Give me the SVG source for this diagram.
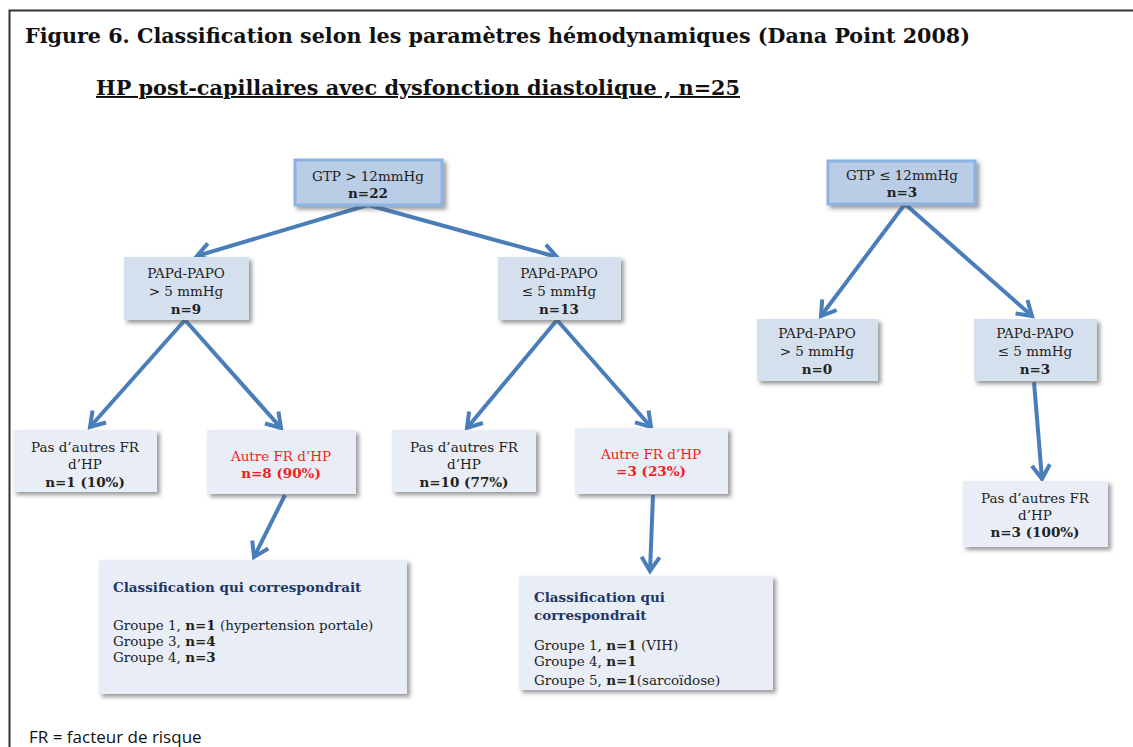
<svg xmlns="http://www.w3.org/2000/svg" width="1133" height="747" viewBox="0 0 1133 747">
<defs>
<style>
.t{font-family:"DejaVu Serif","Liberation Serif",serif;font-size:13.5px;fill:#222;text-anchor:middle}
.l{text-anchor:start}
.b{font-weight:bold}
.r{fill:#f21d1d}
.nv{fill:#1f3767;font-weight:bold}
.top{fill:#b9cde6;stroke:#8db3e2;stroke-width:3}
.mid{fill:#d5e0ee}
.leaf{fill:#e9eef6}
.c{stroke:#4a7ebb;stroke-width:4;fill:none;marker-end:url(#ah)}
</style>
<filter id="sh" x="-10%" y="-10%" width="130%" height="140%">
<feDropShadow dx="3" dy="3" stdDeviation="2" flood-color="#555" flood-opacity="0.6"/>
</filter>
<marker id="ah" markerUnits="userSpaceOnUse" markerWidth="24" markerHeight="24" viewBox="0 0 24 24" refX="20" refY="12" orient="auto">
<path d="M6,3 L20,12 L6,21" fill="none" stroke="#4a7ebb" stroke-width="4" stroke-linejoin="miter"/>
</marker>
</defs>
<rect width="1133" height="747" fill="#fff"/>
<path d="M9.5,760 L9.5,10.5 L1140,10.5" fill="none" stroke="#333" stroke-width="2"/>
<text x="25" y="43" font-family="DejaVu Serif,Liberation Serif,serif" font-size="19.5" font-weight="bold" fill="#111" textLength="945" lengthAdjust="spacingAndGlyphs">Figure 6. Classification selon les paramètres hémodynamiques (Dana Point 2008)</text>
<text x="96" y="95" font-family="DejaVu Serif,Liberation Serif,serif" font-size="19.5" font-weight="bold" fill="#111" text-decoration="underline" textLength="644" lengthAdjust="spacingAndGlyphs">HP post-capillaires avec dysfonction diastolique , n=25</text>
<text x="29" y="743" font-family="Open Sans,Liberation Sans,sans-serif" font-size="17" fill="#111">FR = facteur de risque</text>

<g id="connectors">
<line class="c" x1="368" y1="205" x2="197" y2="256"/>
<line class="c" x1="368" y1="205" x2="557" y2="257"/>
<line class="c" x1="185" y1="320" x2="90" y2="427"/>
<line class="c" x1="185" y1="320" x2="281" y2="428"/>
<line class="c" x1="557" y1="320" x2="467" y2="428"/>
<line class="c" x1="557" y1="320" x2="651" y2="427"/>
<line class="c" x1="285" y1="495" x2="254" y2="557"/>
<line class="c" x1="653" y1="495" x2="650" y2="571"/>
<line class="c" x1="905" y1="204" x2="821" y2="316"/>
<line class="c" x1="905" y1="204" x2="1032" y2="316"/>
<line class="c" x1="1034" y1="382" x2="1042" y2="479"/>
</g>

<g id="n_gtp_hi">
<rect class="top" x="295" y="160" width="147" height="45" filter="url(#sh)"/>
<text class="t" x="368" y="181">GTP &gt; 12mmHg</text>
<text class="t b" x="368" y="198">n=22</text>
</g>
<g id="n_gtp_lo">
<rect class="top" x="828" y="161" width="147" height="43" filter="url(#sh)"/>
<text class="t" x="902" y="180">GTP ≤ 12mmHg</text>
<text class="t b" x="902" y="197">n=3</text>
</g>
<g id="n_l_gt5">
<rect class="mid" x="124" y="257" width="125" height="63" filter="url(#sh)"/>
<text class="t" x="186" y="278">PAPd-PAPO</text>
<text class="t" x="186" y="296">&gt; 5 mmHg</text>
<text class="t b" x="186" y="314">n=9</text>
</g>
<g id="n_m_le5">
<rect class="mid" x="498" y="257" width="123" height="63" filter="url(#sh)"/>
<text class="t" x="559" y="278">PAPd-PAPO</text>
<text class="t" x="559" y="296">≤ 5 mmHg</text>
<text class="t b" x="559" y="314">n=13</text>
</g>
<g id="n_r_gt5">
<rect class="mid" x="757" y="319" width="121" height="62" filter="url(#sh)"/>
<text class="t" x="817" y="338">PAPd-PAPO</text>
<text class="t" x="817" y="356">&gt; 5 mmHg</text>
<text class="t b" x="817" y="374">n=0</text>
</g>
<g id="n_r_le5">
<rect class="mid" x="974" y="319" width="123" height="62" filter="url(#sh)"/>
<text class="t" x="1035" y="338">PAPd-PAPO</text>
<text class="t" x="1035" y="356">≤ 5 mmHg</text>
<text class="t b" x="1035" y="374">n=3</text>
</g>
<g id="n_leaf1">
<rect class="leaf" x="13" y="430" width="144" height="62" filter="url(#sh)"/>
<text class="t" x="85" y="452">Pas d’autres FR</text>
<text class="t" x="85" y="469">d’HP</text>
<text class="t b" x="85" y="487">n=1 (10%)</text>
</g>
<g id="n_leaf2">
<rect class="leaf" x="207" y="430" width="149" height="64" filter="url(#sh)"/>
<text class="t r" x="281" y="461">Autre FR d’HP</text>
<text class="t r b" x="281" y="478">n=8 (90%)</text>
</g>
<g id="n_leaf3">
<rect class="leaf" x="392" y="430" width="144" height="62" filter="url(#sh)"/>
<text class="t" x="464" y="452">Pas d’autres FR</text>
<text class="t" x="464" y="469">d’HP</text>
<text class="t b" x="464" y="487">n=10 (77%)</text>
</g>
<g id="n_leaf4">
<rect class="leaf" x="575" y="428" width="153" height="66" filter="url(#sh)"/>
<text class="t r" x="651" y="459">Autre FR d’HP</text>
<text class="t r b" x="651" y="476">=3 (23%)</text>
</g>
<g id="n_leaf5">
<rect class="leaf" x="963" y="481" width="145" height="66" filter="url(#sh)"/>
<text class="t" x="1035" y="503">Pas d’autres FR</text>
<text class="t" x="1035" y="520">d’HP</text>
<text class="t b" x="1035" y="537">n=3 (100%)</text>
</g>
<g id="n_class1">
<rect class="leaf" x="99" y="560" width="308" height="134" filter="url(#sh)"/>
<text class="t l nv" x="113" y="592">Classification qui correspondrait</text>
<text class="t l" x="113" y="630">Groupe 1, <tspan class="b">n=1</tspan> (hypertension portale)</text>
<text class="t l" x="113" y="646">Groupe 3, <tspan class="b">n=4</tspan></text>
<text class="t l" x="113" y="662">Groupe 4, <tspan class="b">n=3</tspan></text>
</g>
<g id="n_class2">
<rect class="leaf" x="519" y="576" width="254" height="114" filter="url(#sh)"/>
<text class="t l nv" x="534" y="602">Classification qui</text>
<text class="t l nv" x="534" y="620">correspondrait</text>
<text class="t l" x="534" y="650">Groupe 1, <tspan class="b">n=1</tspan> (VIH)</text>
<text class="t l" x="534" y="666">Groupe 4, <tspan class="b">n=1</tspan></text>
<text class="t l" x="534" y="685">Groupe 5, <tspan class="b">n=1</tspan>(sarcoïdose)</text>
</g>
</svg>
